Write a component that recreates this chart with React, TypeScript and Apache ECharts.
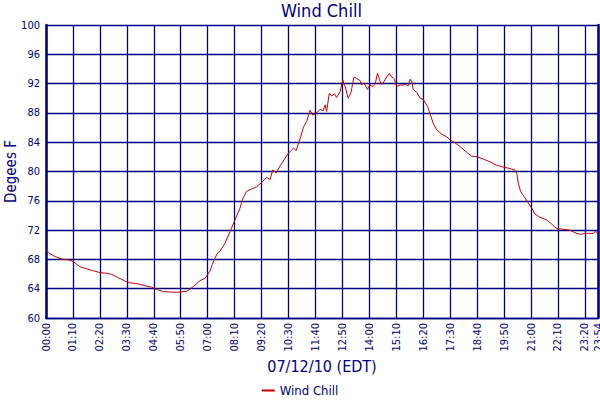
import React, { useEffect, useRef } from "react";
import * as echarts from "echarts";

// minutes after midnight, 07/12/10 (EDT)
const minutes = [
  0, 10, 23, 41, 62, 71, 88, 106, 123, 140, 158, 171, 188, 205, 218, 236, 257, 275, 288, 305,
  322, 340, 353, 366, 383, 400, 413, 426, 432, 439, 446, 452, 465, 478, 491, 504, 511, 521, 534, 547,
  560, 573, 582, 589, 598, 608, 621, 630, 643, 650, 656, 662, 669, 677, 686, 693, 703, 712, 720, 725,
  729, 736, 742, 749, 755, 764, 771, 777, 785, 792, 800, 807, 816, 820, 824, 829, 835, 842, 849, 855,
  861, 866, 870, 876, 885, 892, 898, 904, 911, 920, 928, 935, 941, 946, 950, 954, 963, 972, 980, 991,
  999, 1006, 1015, 1028, 1041, 1050, 1063, 1076, 1093, 1106, 1120, 1136, 1154, 1171, 1188, 1206, 1218, 1223, 1227, 1233,
  1242, 1253, 1262, 1270, 1283, 1301, 1314, 1325, 1344, 1361, 1374, 1388, 1400, 1422, 1426, 1434,
];

const windChill = [
  69.3, 68.8, 68.4, 68.05, 67.9, 67.7, 67.0, 66.7, 66.45, 66.2, 66.1, 65.95, 65.5, 65.05, 64.8, 64.7, 64.4, 64.2, 63.9, 63.6,
  63.55, 63.5, 63.6, 63.65, 64.3, 65.1, 65.4, 66.4, 67.3, 68.2, 68.9, 69.1, 70.2, 71.8, 73.4, 75.0, 76.3, 77.3, 77.6, 77.9,
  78.5, 79.2, 78.9, 80.2, 79.8, 80.75, 81.8, 82.5, 83.2, 82.85, 83.9, 84.8, 86.1, 86.8, 88.4, 87.7, 88.0, 88.5, 88.3, 89.1,
  88.2, 90.7, 90.3, 90.6, 90.1, 90.9, 92.5, 91.6, 90.0, 90.7, 92.9, 92.7, 92.4, 91.8, 92.1, 91.8, 91.2, 91.8, 91.6, 91.9,
  93.4, 92.7, 91.9, 92.1, 92.9, 93.4, 92.9, 92.7, 91.6, 91.8, 91.8, 91.9, 91.7, 92.6, 92.3, 91.2, 90.8, 90.0, 89.85, 88.9,
  87.7, 86.55, 85.7, 85.1, 84.75, 84.3, 83.9, 83.4, 82.6, 82.1, 82.0, 81.7, 81.3, 80.85, 80.6, 80.4, 80.2, 79.75, 78.4, 77.25,
  76.6, 75.7, 75.0, 74.2, 73.75, 73.4, 72.8, 72.25, 72.1, 72.0, 71.65, 71.4, 71.55, 71.55, 71.8, 71.65,
];

const NAVY = "#000080";
const RED = "#cc0000";
const FONT = "'DejaVu Sans Condensed', 'Liberation Sans', sans-serif";

const fmtTime = (m: number) =>
  `${String(Math.floor(m / 60)).padStart(2, "0")}:${String(Math.round(m % 60)).padStart(2, "0")}`;

const App: React.FC = () => {
  const chartRef = useRef<HTMLDivElement | null>(null);

  useEffect(() => {
    if (!chartRef.current) return;
    document.body.style.margin = "0";
    const chart = echarts.init(chartRef.current, undefined, { renderer: "svg" });
    chart.setOption({
      animation: false,
      backgroundColor: "#fff",
      textStyle: { fontFamily: FONT },
      title: {
        text: "Wind Chill",
        left: 281,
        top: 1,
        padding: 0,
        textStyle: { color: NAVY, fontSize: 18, fontWeight: "normal", fontFamily: FONT },
      },
      grid: { left: 46, right: 2, top: 25, bottom: 82, containLabel: false, outerBoundsMode: "none" },
      legend: {
        left: "center",
        top: 384,
        padding: 0,
        itemWidth: 13,
        itemHeight: 2,
        textStyle: { color: NAVY, fontSize: 13, fontFamily: FONT },
        data: [{ name: "Wind Chill", icon: "rect" }],
      },
      xAxis: {
        type: "value",
        min: 0,
        max: 1434,
        interval: 70,
        name: "07/12/10 (EDT)",
        nameLocation: "middle",
        nameGap: 40,
        nameMoveOverlap: false,
        nameTextStyle: { color: NAVY, fontSize: 16, fontFamily: FONT },
        axisLine: { show: true, lineStyle: { color: NAVY, width: 1.3 } },
        axisTick: { show: false },
        axisLabel: {
          rotate: 90,
          margin: 5,
          color: NAVY,
          fontSize: 11,
          fontFamily: FONT,
          formatter: (v: number) => fmtTime(v),
        },
        splitLine: { show: true, lineStyle: { color: NAVY, width: 1.3 } },
      },
      yAxis: [
        {
          type: "value",
          min: 60,
          max: 100,
          interval: 4,
          name: "Degees F",
          nameLocation: "middle",
          nameGap: 28,
          nameRotate: 90,
          nameMoveOverlap: false,
          nameTextStyle: { color: NAVY, fontSize: 15, fontFamily: FONT },
          axisLine: { show: true, lineStyle: { color: NAVY, width: 2.5 } },
          axisTick: { show: false },
          axisLabel: { color: NAVY, fontSize: 11, margin: 6, fontFamily: FONT },
          splitLine: { show: true, lineStyle: { color: NAVY, width: 1.3 } },
        },
        {
          type: "value",
          position: "right",
          min: 60,
          max: 100,
          interval: 4,
          axisLine: { show: true, lineStyle: { color: NAVY, width: 2.5 } },
          axisTick: { show: false },
          axisLabel: { show: false },
          splitLine: { show: false },
        },
      ],
      series: [
        {
          name: "Wind Chill",
          type: "line",
          symbol: "none",
          lineStyle: { color: RED, width: 1 },
          itemStyle: { color: RED },
          data: minutes.map((m, i) => [m, windChill[i]]),
        },
      ],
    });
    return () => chart.dispose();
  }, []);

  return <div ref={chartRef} style={{ width: 600, height: 400 }} />;
};

export default App;
